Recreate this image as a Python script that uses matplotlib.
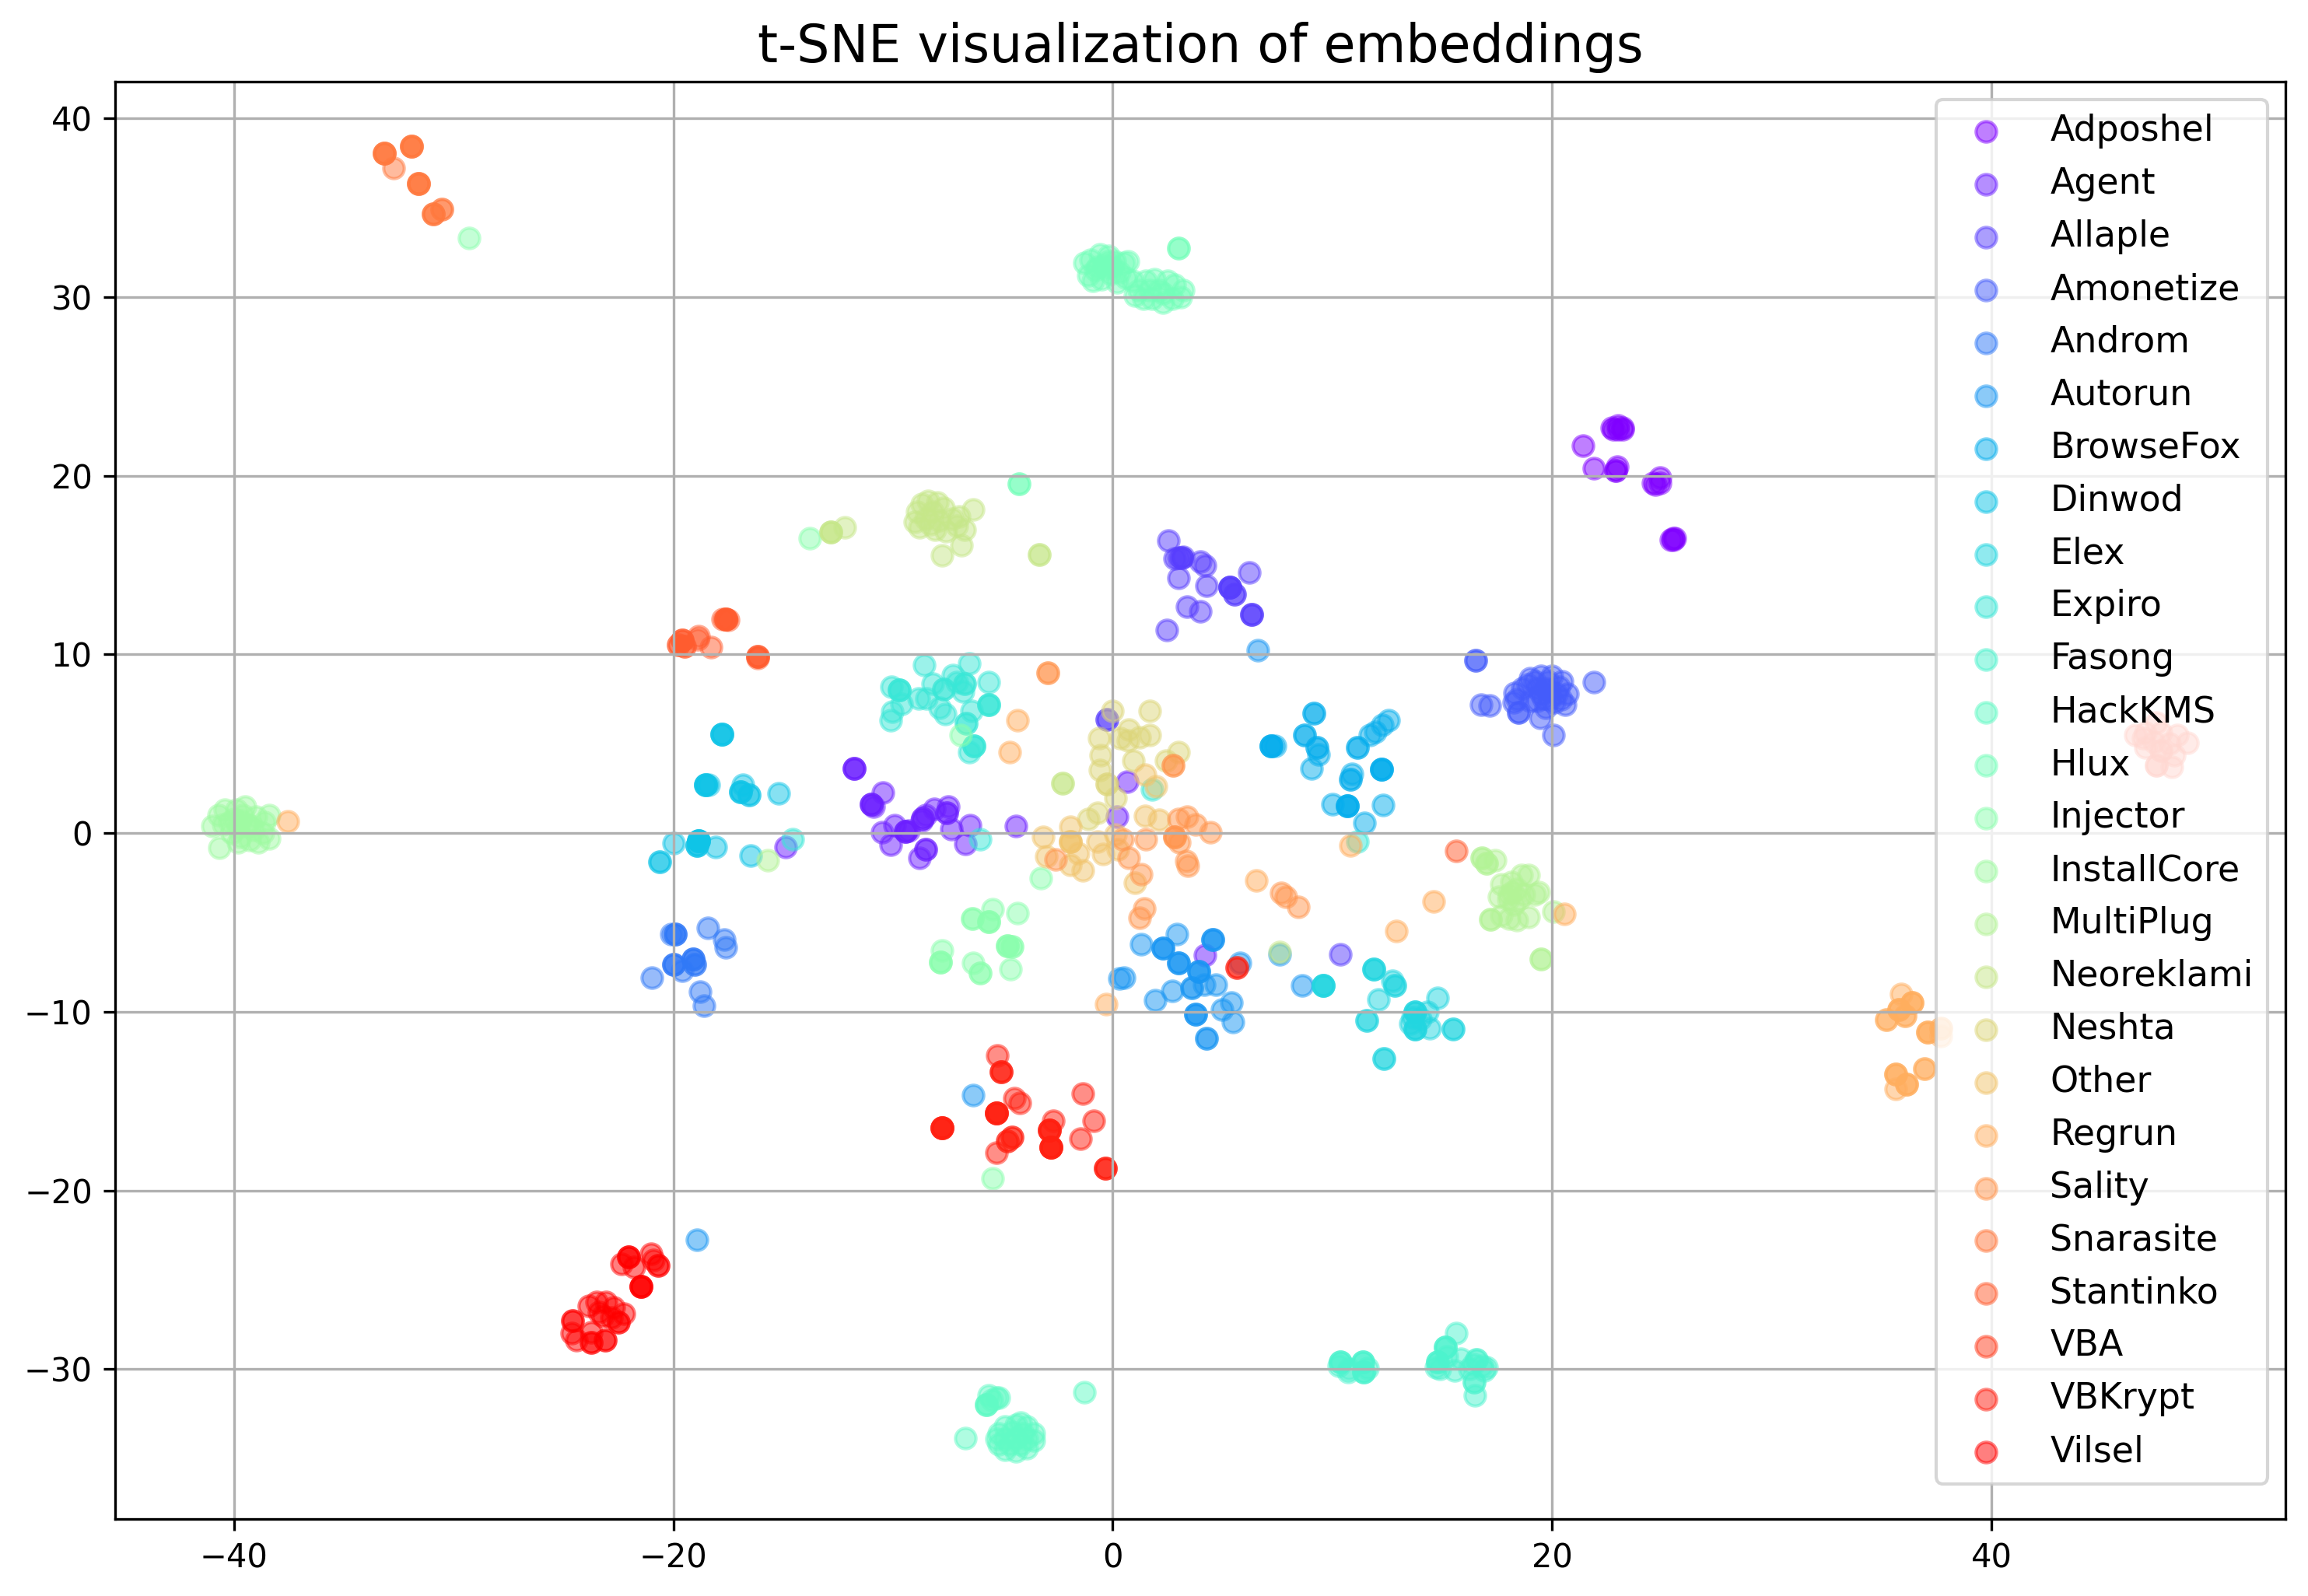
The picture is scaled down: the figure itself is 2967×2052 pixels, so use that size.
import numpy as np
import matplotlib
matplotlib.use("Agg")
import matplotlib.pyplot as plt

# points, one (x, y) per marker; repeats are stacked markers
Adposhel = [(22.7,22.7),(22.8,22.6),(23.0,22.8),(23.0,22.6),(23.2,22.7),(23.2,22.6),(21.4,21.7),(21.9,20.4),
            (22.9,20.3),(22.95,20.5),(22.9,20.3),(24.6,19.6),(24.7,19.5),(24.9,19.9),(24.9,19.6),(25.4,16.4),
            (25.5,16.5),(25.5,16.4),(25.6,16.5)]
Agent = [(-11.77,3.64),(-11.77,3.64),(-11.77,3.64),(-10.46,2.27),(-10.98,1.6),(-10.98,1.6),(-10.98,1.6),(-10.9,1.5),
         (-9.92,0.45),(-10.48,0.03),(-10.12,-0.64),(-9.43,0.08),(-9.43,0.08),(-9.43,0.08),(-9.3,0.15),(-8.64,0.84),
         (-8.64,0.84),(-8.5,1.0),(-8.7,0.7),(-8.12,1.34),(-7.5,1.48),(-7.55,1.15),(-7.55,1.15),(-7.33,0.22),
         (-6.49,0.45),(-6.7,-0.62),(-8.5,-0.9),(-8.5,-0.9),(-8.79,-1.37),(-4.4,0.42),(0.18,0.92),(0.65,2.9),
         (4.2,-6.83),(-14.9,-0.76)]
Allaple = [(2.55,16.35),(2.82,15.38),(3.15,15.42),(3.15,15.42),(3.0,15.42),(3.2,15.45),(3.99,15.18),(4.21,15.0),
           (3.0,14.3),(4.26,13.85),(5.34,13.75),(5.34,13.75),(5.34,13.75),(5.34,13.75),(5.54,13.38),(5.54,13.38),
           (6.22,14.6),(6.31,12.25),(6.31,12.25),(6.31,12.25),(3.38,12.68),(3.99,12.43),(2.48,11.35),(-0.25,6.35),
           (-0.25,6.35),(10.37,-6.78)]
Amonetize = [(16.53,9.67),(16.53,9.67),(16.78,7.2),(17.16,7.13),(21.9,8.44),(20.05,5.47),(19.45,6.44),(19.0,8.67),
             (19.5,8.8),(20.0,8.8),(20.45,8.5),(20.7,7.8),(20.6,7.2),(19.7,7.0),(19.3,8.1),(19.7,8.1),(20.2,7.8),
             (19.6,7.55),(20.1,7.3),(18.3,7.85),(18.25,7.3),(18.45,6.75),(18.45,6.75),(18.65,8.1),(18.9,8.3),
             (19.2,8.5),(19.8,8.5),(20.3,8.2),(19.9,7.5),(19.3,7.4),(18.4,7.5),(19.0,7.4),(20.4,7.5),(19.5,7.8),
             (19.9,8.0)]
Androm = [(-18.42,-5.3),(-17.67,-5.94),(-17.63,-6.41),(-20.1,-5.66),(-19.9,-5.66),(-19.9,-5.66),(-19.9,-5.66),
          (-20.0,-7.34),(-20.0,-7.34),(-20.0,-7.34),(-19.6,-7.7),(-19.1,-7.06),(-19.1,-7.06),(-19.1,-7.06),
          (-19.03,-7.34),(-19.03,-7.34),(-20.97,-8.1),(-18.8,-8.88),(-18.6,-9.64)]
Autorun = [(2.93,-5.66),(1.31,-6.22),(2.28,-6.44),(2.28,-6.44),(2.28,-6.44),(3.0,-7.25),(3.0,-7.25),(3.0,-7.25),
           (4.55,-5.94),(4.55,-5.94),(4.55,-5.94),(3.9,-7.76),(3.9,-7.76),(3.9,-7.76),(3.6,-8.66),(3.6,-8.66),
           (4.17,-8.46),(4.71,-8.46),(0.29,-8.12),(0.52,-8.07),(2.7,-8.82),(1.92,-9.36),(3.77,-10.14),(3.77,-10.14),
           (3.77,-10.14),(5.41,-9.5),(4.96,-9.86),(5.46,-10.56),(4.28,-11.48),(4.28,-11.48),(7.6,-6.78),(5.8,-7.25),
           (8.64,-8.52),(-6.34,-14.68),(-18.94,-22.75),(6.6,10.22)]
BrowseFox = [(7.2,4.87),(7.2,4.87),(7.2,4.87),(7.2,4.87),(7.4,4.87),(9.17,6.72),(9.17,6.72),(8.74,5.5),(8.74,5.5),
             (9.3,4.8),(9.3,4.8),(9.35,4.42),(11.15,4.8),(11.15,4.8),(11.7,5.5),(11.94,5.68),(12.27,6.05),(12.55,6.3),
             (9.05,3.6),(10.82,3.03),(10.82,3.03),(10.89,3.3),(12.22,3.59),(12.22,3.59),(12.22,3.59),(12.22,3.59),
             (9.99,1.62),(10.66,1.54),(10.66,1.54),(10.66,1.54),(10.66,1.54),(12.29,1.57),(11.45,0.59)]
Dinwod = [(-18.53,2.69),(-18.53,2.69),(-18.53,2.69),(-18.53,2.69),(-18.4,2.69),(-16.84,2.69),(-16.95,2.32),
          (-16.95,2.32),(-16.95,2.32),(-16.54,2.13),(-16.54,2.13),(-15.2,2.24),(-17.8,5.52),(-17.8,5.52),(-17.8,5.52),
          (-17.8,5.52),(-20.63,-1.6),(-20.63,-1.6),(-20.0,-0.56),(-18.87,-0.42),(-18.87,-0.42),(-18.87,-0.42),
          (-18.87,-0.42),(-18.87,-0.42),(-18.92,-0.7),(-18.92,-0.7),(-18.92,-0.7),(-18.08,-0.76),(-16.47,-1.26)]
Elex = [(11.88,-7.62),(11.88,-7.62),(11.88,-7.62),(12.74,-8.26),(12.85,-8.52),(12.85,-8.52),(9.58,-8.52),(9.58,-8.52),
        (9.58,-8.52),(9.58,-8.52),(12.11,-9.3),(14.77,-9.24),(11.57,-10.48),(11.57,-10.48),(13.75,-10.0),(13.75,-10.0),
        (13.75,-10.0),(13.65,-10.3),(14.32,-10.0),(13.53,-10.64),(13.75,-10.98),(13.75,-10.98),(13.75,-10.98),
        (14.43,-10.92),(15.51,-10.98),(15.51,-10.98),(12.33,-12.6),(12.33,-12.6),(14.0,-10.4)]
Expiro = [(-8.6,9.42),(-6.53,9.5),(-10.07,8.18),(-9.73,8.0),(-9.73,8.0),(-9.73,8.0),(-7.27,8.85),(-8.18,8.35),(-7.7,8.05),
          (-7.7,8.05),(-6.76,8.35),(-6.76,8.35),(-7.09,8.43),(-5.63,8.43),(-6.8,7.93),(-8.85,7.55),(-8.49,7.55),
          (-9.62,7.25),(-10.02,6.8),(-10.09,6.3),(-7.88,7.0),(-7.63,6.68),(-5.63,7.18),(-5.63,7.18),(-5.63,7.18),
          (-6.42,6.85),(-6.69,6.13),(-6.69,6.13),(-6.31,4.87),(-6.31,4.87),(-6.31,4.87),(-6.53,4.55),(-14.58,-0.34),
          (-6.02,-0.34),(1.8,2.46),(11.12,-0.48)]
Fasong = [(10.37,-29.6),(10.37,-29.6),(10.37,-29.6),(10.3,-29.8),(10.71,-30.17),(10.75,-30.0),(11.39,-29.6),(11.39,-29.6),(11.39,-29.6),
          (11.43,-30.17),(11.43,-30.17),(11.43,-30.17),(11.6,-29.95),(14.77,-29.6),(14.77,-29.6),(14.77,-29.6),(14.7,-29.9),
          (15.15,-28.77),(15.15,-28.77),(15.15,-28.77),(15.63,-27.98),(15.85,-29.4),(15.56,-30.08),(16.57,-29.47),
          (16.57,-29.47),(16.91,-30.08),(17.02,-29.9),(16.46,-30.73),(16.46,-30.73),(16.5,-31.48),(16.23,-30.0),(14.9,-30.0),
          (16.4,-29.7),(16.8,-29.8),(15.2,-29.3)]
HackKMS = [(-5.64,-31.48),(-5.3,-31.57),(-5.75,-32.0),(-5.75,-32.0),(-5.75,-32.0),(-5.5,-31.7),(-5.2,-31.6),(-6.7,-33.87),
           (-1.29,-31.29),(-4.4,-33.87),(-5.2,-33.6),(-5.2,-34.2),(-4.9,-33.2),(-4.9,-33.9),(-4.9,-34.5),(-4.4,-33.1),
           (-4.4,-34.6),(-3.9,-33.2),(-3.9,-33.9),(-3.9,-34.4),(-3.6,-33.6),(-3.6,-34.0),(-4.6,-33.5),(-4.2,-34.2),
           (-4.1,-33.6),(-4.7,-34.2),(-5.3,-33.9),(-4.2,-33.0)]
Hlux = [(3.0,32.75),(3.0,32.75),(-4.26,19.55),(-4.26,19.55),(-1.3,31.9),(-1.1,31.2),(-1.0,32.1),(-0.8,31.5),(-0.6,32.4),
        (-0.5,31.0),(-0.4,31.8),(-0.2,32.3),(-0.1,31.3),(0.1,32.0),(0.3,31.4),(0.5,31.9),(0.6,31.1),(0.7,32.0),(-0.9,30.9),
        (0.2,30.8),(0.9,30.9),(1.2,30.4),(1.5,30.9),(1.9,31.0),(2.1,30.4),(2.5,30.9),(2.8,30.7),(3.2,30.4),(1.4,29.9),
        (1.8,29.9),(2.3,29.7),(2.7,29.9),(3.1,30.0),(1.0,30.1),(2.3,30.2),(1.7,30.4),(-0.7,31.7),(-0.3,31.6),(0.0,31.7),(-0.2,32.0)]
Injector = [(-5.46,-4.26),(-4.35,-4.48),(-6.38,-4.76),(-6.38,-4.76),(-5.66,-4.96),(-5.66,-4.96),(-5.66,-4.96),(-4.8,-6.3),
            (-4.8,-6.3),(-4.8,-6.3),(-4.58,-6.36),(-4.58,-6.36),(-7.78,-6.58),(-7.85,-7.2),(-7.85,-7.2),(-7.85,-7.2),
            (-6.34,-7.25),(-6.04,-7.84),(-6.04,-7.84),(-4.64,-7.62),(-3.27,-2.52),(-5.48,-19.3),(-13.8,16.5),(-6.91,5.5),
            (-29.31,33.3)]
InstallCore = [(-40.68,-0.84),(-41.0,0.4),(-40.7,1.0),(-40.5,0.5),(-40.4,1.3),(-40.1,0.0),(-40.0,0.8),(-39.9,1.3),(-39.8,0.3),
               (-39.7,-0.2),(-39.6,1.0),(-39.5,1.5),(-39.4,0.5),(-39.3,-0.4),(-39.1,0.2),(-39.0,0.9),(-38.9,-0.5),(-38.7,0.0),
               (-38.6,0.6),(-38.4,1.0),(-38.4,-0.3),(-40.2,0.6),(-39.7,0.7),(-39.2,0.4),(-39.8,-0.5)]
MultiPlug = [(16.8,-1.4),(16.8,-1.4),(17.02,-1.68),(17.02,-1.68),(17.41,-1.51),(17.18,-4.82),(17.18,-4.82),(18.6,-2.35),
             (18.94,-2.35),(17.7,-2.86),(18.15,-2.72),(19.4,-3.28),(19.2,-3.42),(17.59,-3.56),(18.04,-3.42),(18.38,-3.14),
             (18.71,-3.42),(18.27,-3.98),(17.7,-4.6),(18.04,-4.76),(18.38,-4.87),(18.94,-4.68),(18.2,-3.3),(18.0,-3.7),
             (18.5,-3.7),(19.5,-7.06),(19.5,-7.06),(20.05,-4.4),(-15.7,-1.5)]
Neoreklami = [(-9.0,17.4),(-8.9,18.0),(-8.8,17.1),(-8.7,18.4),(-8.5,17.6),(-8.4,18.6),(-8.2,18.0),(-8.1,17.0),(-8.0,18.5),
              (-7.9,17.5),(-7.7,18.2),(-7.6,16.9),(-7.3,17.6),(-7.1,17.2),(-7.0,17.7),(-8.3,17.3),(-6.37,18.1),(-6.87,16.12),
              (-7.77,15.55),(-6.76,17.0),(-3.36,15.6),(-3.36,15.6),(-12.84,16.85),(-12.84,16.85),(-12.84,16.85),(-12.2,17.1),
              (-2.3,2.8),(-2.3,2.8),(7.6,-6.64)]
Neshta = [(0.0,6.85),(1.69,6.85),(-0.61,5.3),(0.74,5.8),(1.69,5.5),(1.24,5.38),(0.34,5.3),(0.68,5.18),(3.0,4.55),(2.43,4.05),
          (-0.56,4.35),(0.95,4.05),(-0.6,3.55),(-0.27,2.74),(-0.27,2.74),(0.11,1.96),(-0.68,1.12),(-1.13,0.78)]
Other = [(1.47,0.98),(2.1,0.73),(-1.92,0.36),(-3.16,-0.2),(-1.92,-0.48),(-1.92,-0.48),(-1.92,-0.48),(-0.68,-0.48),(0.11,-0.06),
         (-3.04,-1.32),(-1.58,-1.12),(-1.92,-1.79),(-1.35,-2.1),(-0.45,-1.18),(0.23,-0.9),(1.01,-2.8),(1.47,3.25),(1.96,2.6)]
Regrun = [(35.9,-9.02),(36.4,-9.5),(36.4,-9.5),(36.4,-9.5),(35.77,-9.86),(35.77,-9.86),(35.77,-9.86),(36.05,-10.2),(36.05,-10.2),
          (35.2,-10.42),(35.2,-10.42),(37.08,-11.12),(37.08,-11.12),(37.08,-11.12),(37.68,-10.9),(37.68,-10.9),(37.68,-11.37),
          (36.96,-13.2),(36.96,-13.2),(35.65,-13.5),(35.65,-13.5),(35.65,-13.5),(36.12,-14.06),(36.12,-14.06),(36.12,-14.06),
          (35.65,-14.3),(6.54,-2.66),(14.59,-3.84),(12.92,-5.46),(10.82,-0.67),(-0.29,-9.58),(-4.32,6.3),(-4.7,4.55),
          (-37.54,0.64),(20.57,-4.54)]
Sality = [(3.0,0.78),(3.38,0.92),(3.79,0.5),(4.44,0.03),(2.82,-0.2),(2.82,-0.2),(2.82,-0.2),(3.04,-0.53),(3.34,-1.54),(3.43,-1.82),
          (0.45,-0.34),(1.51,-0.34),(0.74,-1.4),(1.31,-2.3),(1.42,-4.2),(1.24,-4.73),(7.67,-3.36),(7.89,-3.56),(8.46,-4.12),
          (-2.59,-1.46),(2.75,3.78),(2.75,3.78),(-2.97,8.97),(-2.97,8.97)]
Snarasite = [(-33.15,38.05),(-33.15,38.05),(-33.15,38.05),(-33.15,38.05),(-31.93,38.42),(-31.93,38.42),(-31.93,38.42),(-31.93,38.42),
             (-32.72,37.2),(-31.59,36.35),(-31.59,36.35),(-31.59,36.35),(-31.59,36.35),(-30.92,34.67),(-30.92,34.67),(-30.92,34.67),
             (-30.55,34.92),(-30.55,34.92)]
Stantinko = [(-17.63,11.98),(-17.63,11.98),(-17.63,11.98),(-17.63,11.98),(-17.75,11.98),(-17.5,11.95),(-18.87,11.03),(-18.9,10.85),
             (-18.3,10.4),(-19.6,10.78),(-19.6,10.78),(-19.6,10.78),(-19.77,10.53),(-19.77,10.53),(-19.5,10.45),(-19.5,10.45),
             (-16.16,9.9),(-16.16,9.9),(-16.16,9.9),(-16.16,9.8),(15.63,-0.98)]
VBA = [(46.53,5.47),(47.49,6.17),(48.92,5.06),(48.2,3.72),(47.5,3.8),(47.5,3.8),(48.3,4.36),(47.0,5.6),(47.7,5.6),(48.45,5.47),
       (47.0,4.78),(47.7,4.64),(47.7,4.64),(48.1,5.0),(47.4,5.1),(46.9,5.3)]
VBKrypt = [(-5.25,-12.44),(-5.07,-13.36),(-5.07,-13.36),(-5.07,-13.36),(-4.46,-14.82),(-4.24,-15.1),(-5.28,-15.66),(-5.28,-15.66),
           (-5.28,-15.66),(-5.28,-15.66),(-5.28,-15.66),(-2.71,-16.08),(-2.89,-16.64),(-2.89,-16.64),(-2.89,-16.64),(-2.89,-16.64),
           (-2.82,-17.56),(-2.82,-17.56),(-2.82,-17.56),(-2.82,-17.56),(-2.82,-17.56),(-7.78,-16.47),(-7.78,-16.47),(-7.78,-16.47),
           (-7.78,-16.47),(-7.78,-16.47),(-4.58,-17.0),(-4.58,-17.0),(-4.8,-17.23),(-4.8,-17.23),(-5.28,-17.9),(-1.35,-14.57),
           (-0.88,-16.08),(-1.47,-17.09),(-0.34,-18.77),(-0.34,-18.77),(-0.34,-18.77),(5.64,-7.51),(5.64,-7.51)]
Vilsel = [(-22.03,-23.73),(-22.03,-23.73),(-22.03,-23.73),(-22.37,-24.09),(-21.81,-24.29),(-21.02,-23.53),(-20.9,-23.87),(-20.68,-24.2),
          (-20.68,-24.2),(-21.47,-25.35),(-21.47,-25.35),(-21.47,-25.35),(-21.47,-25.35),(-23.5,-26.25),(-23.84,-26.44),(-23.05,-26.25),
          (-22.71,-26.53),(-22.26,-26.89),(-23.39,-26.81),(-22.83,-27.09),(-22.49,-27.37),(-22.49,-27.37),(-24.59,-27.28),(-24.59,-27.28),
          (-24.63,-27.98),(-24.41,-28.35),(-23.73,-28.49),(-23.73,-28.49),(-23.1,-28.35),(-23.1,-28.35),(-23.73,-27.93),(-23.2,-27.0)]

names = ["Adposhel", "Agent", "Allaple", "Amonetize", "Androm", "Autorun", "BrowseFox", "Dinwod", "Elex", "Expiro",
         "Fasong", "HackKMS", "Hlux", "Injector", "InstallCore", "MultiPlug", "Neoreklami", "Neshta", "Other", "Regrun",
         "Sality", "Snarasite", "Stantinko", "VBA", "VBKrypt", "Vilsel"]
groups = [Adposhel, Agent, Allaple, Amonetize, Androm, Autorun, BrowseFox, Dinwod, Elex, Expiro,
          Fasong, HackKMS, Hlux, Injector, InstallCore, MultiPlug, Neoreklami, Neshta, Other, Regrun,
          Sality, Snarasite, Stantinko, VBA, VBKrypt, Vilsel]

fig = plt.figure(figsize=(2967 / 300, 2052 / 300), dpi=300)
ax = fig.add_axes([148 / 2967, 1 - 1953 / 2052, (2938 - 148) / 2967, (1953 - 105) / 2052])

colors = plt.cm.rainbow(np.linspace(0, 1, len(names)))
for name, pts, col in zip(names, groups, colors):
    pts = np.array(pts)
    ax.scatter(pts[:, 0], pts[:, 1], color=col, label=name, alpha=0.5, s=40)

ax.set_xlim(-45.41, 53.38)
ax.set_ylim(-38.38, 42.05)
ax.set_title("t-SNE visualization of embeddings", fontsize=16)
ax.grid(True)
ax.legend(fontsize=11, loc="upper right")

fig.savefig("out.png", dpi=300)
